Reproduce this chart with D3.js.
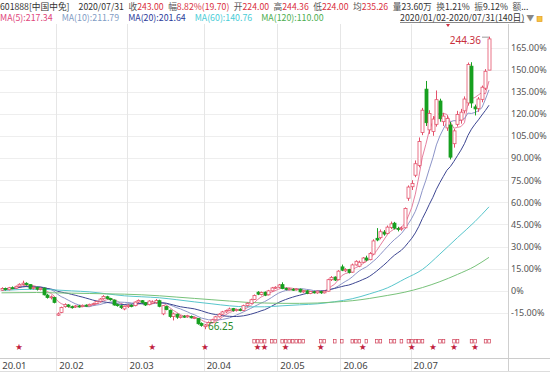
<!DOCTYPE html>
<html>
<head>
<meta charset="utf-8">
<script src="https://cdn.jsdelivr.net/npm/d3@7"></script>
<style>
body { margin: 0; background: #fff; }
svg { display: block; font-family: "Noto Sans CJK SC", "Noto Sans", sans-serif; }
</style>
</head>
<body>
<script>
const width = 550;
const height = 373;

// 601888 中国中免, 2020/01/02 - 2020/07/31, daily candles (yuan)
const prevClose = 89.7;
const opens = [90.0,91.0,90.3,91.5,91.3,92.5,93.5,94.2,93.4,91.2,91.8,90.5,91.3,87.0,85.4,85.6,
	74.8,76.5,80.0,81.0,80.0,79.8,80.4,80.0,80.9,80.5,81.4,81.8,83.3,84.8,86.0,85.0,84.0,81.2,80.5,78.6,
	80.0,80.8,80.6,82.8,83.6,82.4,81.2,82.0,82.4,83.6,75.6,80.0,77.8,74.0,75.4,73.4,74.2,73.8,74.0,73.0,72.8,69.8,
	67.8,68.8,70.4,72.0,73.8,75.4,76.8,77.6,78.8,77.6,78.4,77.6,80.6,82.0,84.4,88.8,87.4,88.8,87.2,89.6,91.4,
	91.8,93.4,91.0,90.6,90.6,90.4,90.6,89.0,89.6,88.0,89.0,88.4,89.2,88.4,89.4,96.4,98.0,96.4,
	104.2,101.8,102.6,101.0,105.4,104.6,107.0,109.6,108.6,112.0,121.6,122.0,125.4,124.6,128.2,130.8,127.6,127.2,128.0,146.0,
	153.0,160.0,166.0,186.0,212.4,187.6,186.6,191.0,205.2,192.6,188.8,190.6,179.2,191.0,193.6,199.2,204.0,226.4,201.6,200.6,206.2,213.0,224.0];
const highs = [91.8,91.6,92.0,92.3,92.8,94.2,95.8,94.8,93.6,92.3,92.0,91.6,91.5,87.8,86.8,85.9,
	76.5,80.0,82.0,81.5,80.6,80.9,81.0,81.3,81.4,81.8,82.4,83.6,85.2,87.0,86.6,85.4,84.3,81.8,80.9,80.6,
	81.5,81.4,83.2,84.4,84.0,82.8,83.9,83.8,84.6,84.2,81.0,80.6,78.2,76.4,75.8,74.8,74.8,75.0,74.6,74.0,73.0,70.4,
	69.4,71.0,72.6,74.4,76.0,77.4,78.2,79.4,79.2,78.8,79.0,81.2,82.6,84.8,87.4,89.4,89.2,89.2,90.2,92.0,92.4,
	93.8,94.8,91.6,91.4,91.2,91.2,91.0,90.0,90.0,89.6,89.6,89.8,89.6,89.8,97.0,98.6,98.4,102.2,
	105.6,103.4,103.0,106.2,108.2,108.0,110.2,111.0,113.2,121.0,127.8,127.0,126.6,129.4,131.8,131.6,128.6,128.8,140.4,153.8,
	157.0,169.0,183.0,201.0,217.4,199.6,196.0,211.6,206.6,198.0,196.4,192.4,188.2,199.2,200.4,208.0,228.6,228.8,203.0,207.6,214.6,224.6,244.36];
const lows = [89.6,89.8,89.9,90.6,90.9,92.0,93.0,92.8,90.5,90.4,89.8,89.9,86.8,84.9,84.4,82.0,
	74.3,76.0,79.4,79.5,78.8,79.2,79.4,79.6,80.0,80.1,80.9,81.5,82.8,84.2,84.4,83.6,80.6,80.0,78.6,77.8,
	79.2,79.6,80.2,82.2,82.0,80.4,80.8,81.6,81.8,79.6,74.8,77.8,73.2,71.6,72.6,72.8,73.2,73.2,72.8,72.4,69.0,67.8,
	66.25,68.2,70.0,71.6,73.4,75.0,76.2,77.2,77.0,77.0,77.2,77.2,80.0,81.6,84.0,87.0,86.8,86.4,86.8,89.2,90.8,
	91.2,90.6,90.0,90.0,89.6,89.8,88.6,88.4,87.6,87.6,88.0,87.8,87.8,88.0,89.2,95.6,95.6,96.0,
	101.6,101.0,100.2,100.6,105.0,104.0,106.6,107.6,108.2,111.6,119.8,121.0,123.2,124.0,127.2,127.0,125.8,126.2,127.6,144.4,
	151.0,158.8,164.8,184.4,190.0,185.2,184.0,189.6,192.6,190.0,187.0,169.6,176.8,189.6,191.4,197.6,202.4,201.0,196.4,198.6,204.4,211.8,224.0];
const closes = [91.0,90.4,91.5,91.2,92.4,93.6,94.3,93.5,91.0,91.8,90.6,91.2,87.2,85.6,86.0,82.6,
	75.6,79.5,81.2,80.2,79.6,80.4,80.0,80.8,80.5,81.4,81.8,83.2,84.6,86.2,85.0,84.2,81.0,80.6,79.4,80.2,
	80.8,80.4,82.8,83.8,82.6,81.0,83.4,82.8,83.8,80.2,80.6,78.2,74.0,75.6,73.6,74.2,73.9,74.4,73.2,73.4,69.6,68.6,
	68.8,70.4,72.0,73.8,75.4,76.8,77.6,78.6,77.6,78.2,77.6,80.6,82.0,84.2,86.8,87.6,88.6,87.0,89.6,91.4,91.8,
	93.2,91.0,90.6,90.8,90.2,90.8,89.0,89.6,88.0,89.2,88.6,89.4,88.4,89.4,96.4,97.8,96.2,101.6,
	102.2,102.6,100.8,105.4,107.6,107.0,109.6,108.4,112.4,120.0,120.6,125.6,124.2,128.4,130.4,127.8,127.0,127.8,139.8,152.8,
	155.0,167.0,180.6,199.6,192.0,197.6,194.2,206.0,194.4,196.0,194.6,171.0,187.0,197.0,198.4,206.4,227.4,204.0,200.4,206.4,213.6,223.3,243.0];

// MA60 / MA120 (need history before 2020/01/02)
const maSampleDays = [0,5,10,15,20,25,30,35,40,45,50,55,60,65,70,75,80,85,90,95,100,105,110,115,120,125,130,135,139];
const ma60Values = [89.8,90.4,90.6,90.2,89.6,89.0,87.8,86.6,86.0,85.4,84.2,82.9,81.7,80.5,79.9,79.9,80.5,81.1,81.7,83.0,84.8,87.8,91.4,96.9,102.6,112.0,122.0,131.8,140.76];
const ma120Values = [88.4,88.5,88.6,88.4,88.2,88.0,87.8,87.6,87.2,86.6,85.8,85.0,84.2,83.4,82.6,82.2,82.0,82.0,82.2,82.8,83.6,85.0,86.8,88.8,91.6,95.2,99.6,104.6,110.0];

const monthStarts = [0, 16, 36, 58, 79, 97, 117];
const monthLabels = ["20.01", "20.02", "20.03", "20.04", "20.05", "20.06", "20.07"];
const yTicks = [-15, 0, 15, 30, 45, 60, 75, 90, 105, 120, 135, 150, 165];

const starDays = [5, 43, 58, 73, 75, 81, 91, 103, 117, 123, 129, 135];
const flagDays = [72,73,74,75,77,78,80,81,82,83,84,85,86,91,92,95,97,100,101,102,104,107,108,111,112,114,116,117,118,119,120,125,126,129,130,134,135,138,139];

const headerQuote = [
	{ label: "收", value: "243.00", color: "#d9303e" },
	{ label: "幅", value: "8.82%(19.70)", color: "#d9303e" },
	{ label: "开", value: "224.00", color: "#d9303e" },
	{ label: "高", value: "244.36", color: "#d9303e" },
	{ label: "低", value: "224.00", color: "#d9303e" },
	{ label: "均", value: "235.26", color: "#d9303e" },
	{ label: "量", value: "23.60万", color: "#333" },
	{ label: "换", value: "1.21%", color: "#333" },
	{ label: "振", value: "9.12%", color: "#333" },
	{ label: "额", value: "...", color: "#333" }
];
const maNames = ["MA(5)", "MA(10)", "MA(20)", "MA(60)", "MA(120)"];
const maHeaderValues = ["217.34", "211.79", "201.64", "140.76", "110.00"];

// 颜色
const upColor = "#e4506a";
const downColor = "#17a020";
const maLineColors = ["#e680a0", "#8c94c8", "#3d4692", "#58c6cc", "#78c27a"];
const maTextColors = ["#e0457b", "#7f9cc4", "#2b3a9a", "#48ccd6", "#4cae4f"];

const plotRight = 508;
const plotTop = 24;
const axisLine = 358;

const idx = closes.map((d, i) => i);
const x = d3.scaleBand().domain(idx).range([0.25, 490.25]).paddingInner(0.28);
const cx = i => x(i) + x.bandwidth() / 2;
const y = d3.scaleLinear().domain([-15, 165]).range([312.8, 47.6]);
const pct = p => (p / prevClose - 1) * 100;

const svg = d3.select("body").append("svg")
	.attr("width", width)
	.attr("height", height);

// griglia orizzontale
svg.append("g")
	.selectAll("line")
	.data(yTicks)
	.join("line")
	.attr("x1", 0).attr("x2", plotRight)
	.attr("y1", d => Math.round(y(d)) + 0.5).attr("y2", d => Math.round(y(d)) + 0.5)
	.attr("stroke", "#eeeeee");

// griglia verticale (inizio mese)
svg.append("g")
	.selectAll("line")
	.data(monthStarts.slice(1))
	.join("line")
	.attr("x1", d => Math.round(x(d)) + 0.5).attr("x2", d => Math.round(x(d)) + 0.5)
	.attr("y1", plotTop).attr("y2", 372)
	.attr("stroke", "#e6e6e6");

// asse destro
svg.append("line")
	.attr("x1", plotRight + 0.5).attr("x2", plotRight + 0.5)
	.attr("y1", plotTop).attr("y2", 372)
	.attr("stroke", "#cfcfcf");

const yAxis = d3.axisRight(y)
	.tickValues(yTicks)
	.tickSize(0)
	.tickPadding(3)
	.tickFormat(d => d === 0 ? "0%" : d.toFixed(2) + "%");

svg.append("g")
	.attr("transform", `translate(${plotRight},0)`)
	.call(yAxis)
	.call(g => g.select(".domain").remove())
	.call(g => g.selectAll("text")
		.attr("fill", "#555")
		.attr("font-size", 9)
		.attr("font-family", "'Noto Sans', sans-serif"));

// asse inferiore
svg.append("line")
	.attr("x1", 0).attr("x2", width)
	.attr("y1", axisLine + 0.5).attr("y2", axisLine + 0.5)
	.attr("stroke", "#cccccc");
svg.append("line")
	.attr("x1", 0).attr("x2", width)
	.attr("y1", 371.5).attr("y2", 371.5)
	.attr("stroke", "#dddddd");

const xAxis = d3.axisBottom(x)
	.tickValues(monthStarts)
	.tickSize(0)
	.tickFormat((d, i) => monthLabels[i]);

svg.append("g")
	.attr("transform", `translate(0,${axisLine})`)
	.call(xAxis)
	.call(g => g.select(".domain").remove())
	.call(g => g.selectAll(".tick").attr("transform", d => `translate(${x(d) + (d === 0 ? 2 : 3)},0)`))
	.call(g => g.selectAll("text")
		.attr("text-anchor", "start")
		.attr("y", 10.5)
		.attr("dy", 0)
		.attr("fill", "#444")
		.attr("font-size", 9.5)
		.attr("font-family", "'Noto Sans', sans-serif"));

// medie mobili
const movingAvg = (arr, n) => arr.map((_, i) => d3.mean(arr.slice(Math.max(0, i - n + 1), i + 1)));
const line = d3.line()
	.x(d => cx(d.i))
	.y(d => y(pct(d.v)));

const maSeries = [5, 10, 20].map(n => movingAvg(closes, n).map((v, i) => ({ i, v })));
maSeries.push(maSampleDays.map((i, k) => ({ i, v: ma60Values[k] })));
maSeries.push(maSampleDays.map((i, k) => ({ i, v: ma120Values[k] })));

svg.append("g")
	.selectAll("path")
	.data(maSeries)
	.join("path")
	.attr("d", (d, k) => k < 3 ? line.curve(d3.curveLinear)(d) : line.curve(d3.curveMonotoneX)(d))
	.attr("fill", "none")
	.attr("stroke", (d, k) => maLineColors[k])
	.attr("stroke-width", 1);

// candele
const candles = idx.map(i => ({ i, o: opens[i], h: highs[i], l: lows[i], c: closes[i] }));
const cg = svg.append("g")
	.selectAll("g")
	.data(candles)
	.join("g");

cg.append("line")
	.attr("x1", d => Math.round(cx(d.i)) + 0.5).attr("x2", d => Math.round(cx(d.i)) + 0.5)
	.attr("y1", d => y(pct(d.h))).attr("y2", d => y(pct(d.l)))
	.attr("stroke", d => d.c >= d.o ? upColor : downColor);

cg.append("rect")
	.attr("x", d => Math.round(cx(d.i)) - 1)
	.attr("width", 3)
	.attr("y", d => y(pct(Math.max(d.o, d.c))))
	.attr("height", d => Math.max(1, y(pct(Math.min(d.o, d.c))) - y(pct(Math.max(d.o, d.c)))))
	.attr("fill", d => d.c >= d.o ? "#fff" : downColor)
	.attr("stroke", d => d.c >= d.o ? upColor : downColor)
	.attr("stroke-width", 0.8);

// massimo e minimo
const hiIdx = d3.maxIndex(highs);
const loIdx = d3.minIndex(lows);
svg.append("line")
	.attr("x1", cx(hiIdx) - 7).attr("x2", cx(hiIdx))
	.attr("y1", y(pct(highs[hiIdx])) + 0.5).attr("y2", y(pct(highs[hiIdx])) + 0.5)
	.attr("stroke", "#999");
svg.append("text")
	.attr("x", cx(hiIdx) - 8)
	.attr("y", y(pct(highs[hiIdx])) + 7.5)
	.attr("text-anchor", "end")
	.attr("font-size", 10)
	.attr("font-family", "'Noto Sans', sans-serif")
	.attr("fill", "#c8303c")
	.text(highs[hiIdx].toFixed(2));
svg.append("text")
	.attr("x", cx(loIdx) + 3)
	.attr("y", y(pct(lows[loIdx])) + 1)
	.attr("font-size", 10)
	.attr("font-family", "'Noto Sans', sans-serif")
	.attr("fill", "#2b8a2b")
	.text(lows[loIdx].toFixed(2));

// segnali
svg.append("g")
	.selectAll("text")
	.data(starDays)
	.join("text")
	.attr("x", d => cx(d))
	.attr("y", 349)
	.attr("text-anchor", "middle")
	.attr("font-size", 7)
	.attr("fill", "#c0203c")
	.text("★");

svg.append("g")
	.selectAll("rect")
	.data(flagDays)
	.join("rect")
	.attr("x", d => cx(d) - 1.2)
	.attr("y", 339.5)
	.attr("width", 2.6)
	.attr("height", 3.5)
	.attr("fill", "none")
	.attr("stroke", "#d04058")
	.attr("stroke-width", 0.7);

// intestazione
function putText(str, color, xPos, yPos, size) {
	const t = svg.append("text")
		.attr("x", xPos).attr("y", yPos)
		.attr("font-size", size)
		.attr("fill", color)
		.text(str);
	return t.node().getComputedTextLength();
}

// riga 1: etichetta + valore in un solo testo
const fs1 = 8.7;
let hx = 0;
hx += putText("601888[中国中免]", "#333", hx, 10, fs1) + 9;
hx += putText("2020/07/31", "#333", hx, 10, fs1) + 4.5;
headerQuote.forEach(q => {
	const t = svg.append("text")
		.attr("x", hx).attr("y", 10)
		.attr("font-size", fs1);
	t.append("tspan").attr("fill", "#555").text(q.label);
	t.append("tspan").attr("fill", q.color).text(q.value);
	hx += t.node().getComputedTextLength() + 4.5;
});

// riga 2: MA
const fs2 = 8.8;
let mx = 0;
maNames.forEach((n, k) => {
	mx += putText(`${n}:${maHeaderValues[k]}`, maTextColors[k], mx, 20.5, fs2) + 9;
});
const rw = putText("2020/01/02-2020/07/31(140日)", "#333", 400, 20.5, fs2);
svg.append("line")
	.attr("x1", 400).attr("x2", 400 + rw)
	.attr("y1", 22.5).attr("y2", 22.5)
	.attr("stroke", "#555").attr("stroke-width", 0.7);
svg.append("text")
	.attr("x", 402 + rw).attr("y", 20.5)
	.attr("font-size", 8)
	.attr("fill", "#888")
	.text("▼");
svg.append("rect")
	.attr("x", 537).attr("y", 16.5)
	.attr("width", 5).attr("height", 5)
	.attr("fill", "#f4c542")
	.attr("stroke", "#e59a20").attr("stroke-width", 0.7);
svg.append("path")
	.attr("d", "M446,24 L450,24 L448,27 Z")
	.attr("fill", "#d03040");
</script>
</body>
</html>
